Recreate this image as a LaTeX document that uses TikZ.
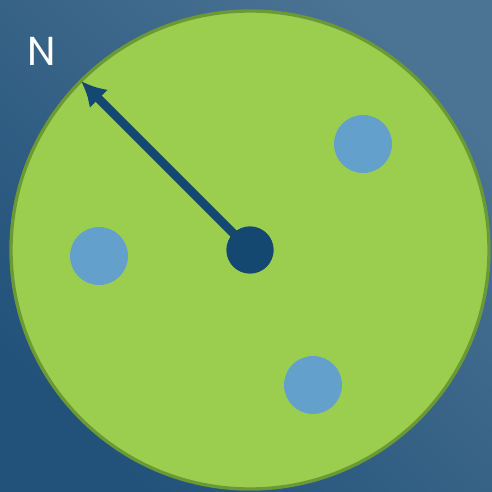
\documentclass[tikz,border=0pt]{standalone}
\usepackage{fontspec}
\setsansfont{Poppins}
\usetikzlibrary{arrows.meta}
\definecolor{bgdark}{HTML}{22527A}
\definecolor{bglight}{HTML}{4B7393}
\definecolor{disc}{HTML}{9BCD4E}
\definecolor{discrim}{HTML}{6B9A35}
\definecolor{hubcol}{HTML}{154870}
\definecolor{spotcol}{HTML}{64A0CC}
\tikzset{
    spot/.style={circle, fill=spotcol, minimum size=1.16cm, inner sep=0pt},
    hub/.style={circle, fill=hubcol, minimum size=0.94cm, inner sep=0pt}
}
\begin{document}
\begin{tikzpicture}[x=0.02cm, y=-0.02cm, >=latex]
    % 1. Nền chuyển màu
    \shade[top color=bglight, bottom color=bgdark, shading angle=-45]
        (0, 0) rectangle (492, 492);
    \useasboundingbox (0, 0) rectangle (492, 492);

    % 2. Đĩa tròn
    \draw[line width=1.9pt, draw=discrim, fill=disc] (250, 250) circle [radius=239];

    % 3. Các chấm xanh
    \node[spot] (s1) at (363, 144) {};
    \node[spot] (s2) at (99, 256) {};
    \node[spot] (s3) at (313, 385) {};

    % 4. Tâm và mũi tên
    \node[hub] (c) at (250, 250) {};
    \coordinate (tip) at (81, 81);
    \draw[line width=5pt, draw=hubcol, -{Latex[length=0.5cm, width=0.52cm]}] (c.center) -- (tip);
    \node[hub] at (c) {};

    % 5. Chữ N
    \node[text=white, font=\sffamily\fontsize{23}{23}\selectfont] (n) at (42, 51) {N};
\end{tikzpicture}
\end{document}
